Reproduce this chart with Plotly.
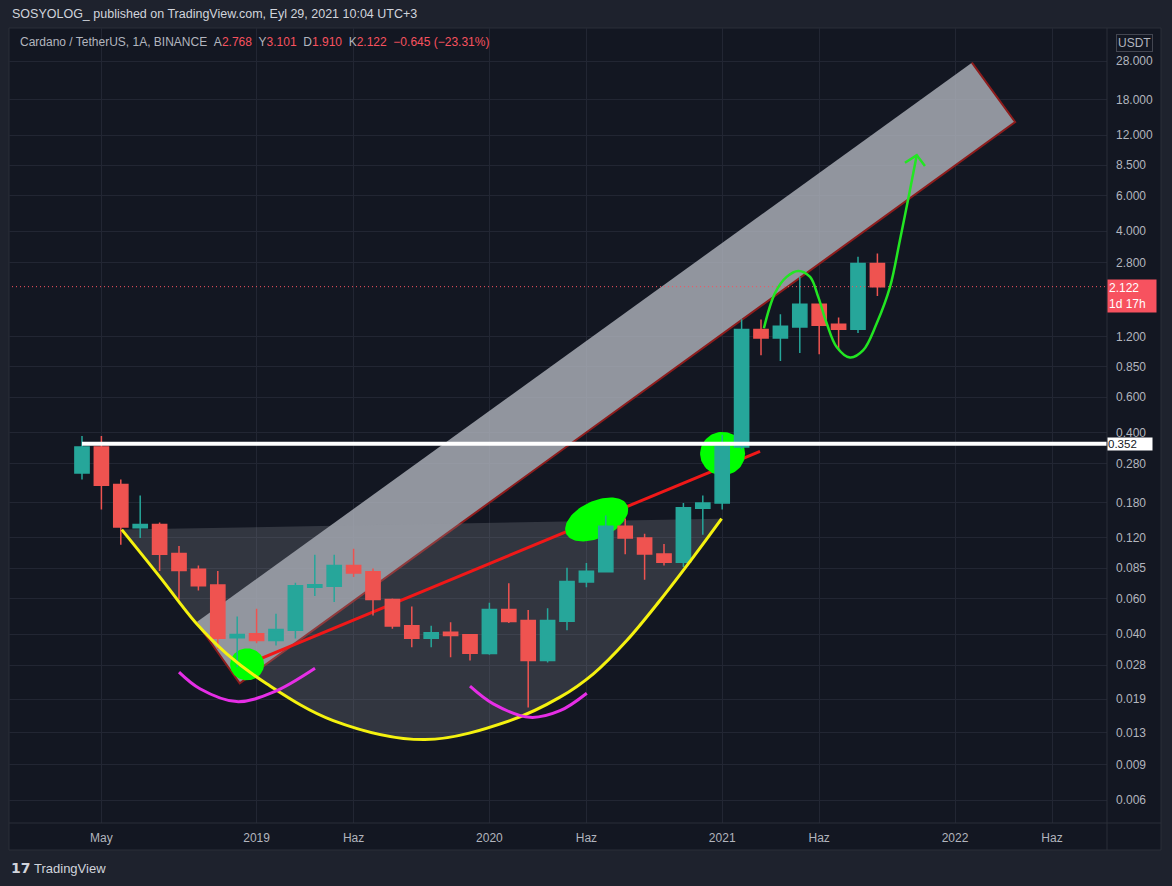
import math
import numpy as np
import plotly.graph_objects as go

# ------------------------------------------------------------------ data
months = ["2018-04", "2018-05", "2018-06", "2018-07", "2018-08", "2018-09", "2018-10",
          "2018-11", "2018-12", "2019-01", "2019-02", "2019-03", "2019-04", "2019-05",
          "2019-06", "2019-07", "2019-08", "2019-09", "2019-10", "2019-11", "2019-12",
          "2020-01", "2020-02", "2020-03", "2020-04", "2020-05", "2020-06", "2020-07",
          "2020-08", "2020-09", "2020-10", "2020-11", "2020-12", "2021-01", "2021-02",
          "2021-03", "2021-04", "2021-05", "2021-06", "2021-07", "2021-08", "2021-09"]
opens = [0.252, 0.339, 0.221, 0.1347, 0.140, 0.1006, 0.0838, 0.070, 0.0383, 0.0401,
         0.0372, 0.0418, 0.0684, 0.0690, 0.0877, 0.0815, 0.0594, 0.0440, 0.0381, 0.0408,
         0.0397, 0.0320, 0.0530, 0.0467, 0.0296, 0.0463, 0.0726, 0.0815, 0.137, 0.120,
         0.100, 0.091, 0.1685, 0.179, 0.339, 1.30, 1.18, 1.34, 1.737, 1.38, 1.305, 2.768]
highs = [0.385, 0.385, 0.234, 0.195, 0.143, 0.1094, 0.0877, 0.0822, 0.0489, 0.0534,
         0.0504, 0.0719, 0.099, 0.099, 0.106, 0.0846, 0.0600, 0.0548, 0.0440, 0.0458,
         0.0400, 0.0572, 0.0716, 0.0526, 0.0538, 0.0854, 0.090, 0.155, 0.150, 0.126,
         0.112, 0.179, 0.195, 0.391, 1.462, 1.46, 1.549, 2.373, 1.75, 1.491, 2.984, 3.101]
lows = [0.234, 0.166, 0.111, 0.120, 0.0822, 0.0594, 0.0658, 0.0337, 0.0274, 0.0360,
        0.0351, 0.0380, 0.0618, 0.0577, 0.0768, 0.0495, 0.0425, 0.0344, 0.0344, 0.0307,
        0.0296, 0.0316, 0.0454, 0.0173, 0.0289, 0.0418, 0.0683, 0.0810, 0.0995, 0.0745,
        0.0877, 0.0862, 0.1245, 0.166, 0.330, 0.969, 0.908, 0.995, 0.980, 1.026, 1.251, 1.910]
closes = [0.339, 0.219, 0.136, 0.140, 0.0995, 0.0828, 0.0694, 0.0381, 0.0398, 0.0372,
          0.0421, 0.0694, 0.0702, 0.0877, 0.0805, 0.0593, 0.0438, 0.0381, 0.0406, 0.0393,
          0.0321, 0.0530, 0.0462, 0.0296, 0.0467, 0.0730, 0.0819, 0.137, 0.120, 0.100,
          0.091, 0.1695, 0.179, 0.342, 1.30, 1.181, 1.35, 1.737, 1.366, 1.305, 2.767, 2.122]
month_idx = list(range(len(months)))

x_tick_vals = [1, 9, 14, 21, 26, 33, 38, 45, 50]
x_tick_text = ["May", "2019", "Haz", "2020", "Haz", "2021", "Haz", "2022", "Haz"]
y_tick_vals = [28, 18, 12, 8.5, 6, 4, 2.8, 1.2, 0.85, 0.6, 0.4, 0.28, 0.18, 0.12, 0.085,
               0.06, 0.04, 0.028, 0.019, 0.013, 0.009, 0.006]
y_tick_text = [f"{v:.3f}" for v in y_tick_vals]

support_level = 0.352
last_close = closes[-1]

# ---- drawings (month index, price)
channel_x = [5.90, 8.13, 48.10, 45.87]
channel_y = [0.04576, 0.02277, 13.94, 27.46]

arc_x = [2.05, 4.02, 5.91, 7.46, 9.52, 12.95, 17.68, 22.06, 24.64, 26.36, 28.08, 29.79, 31.51, 32.97]
arc_y = [0.1320, 0.0767, 0.04497, 0.03192, 0.02266, 0.01488, 0.01197, 0.01488, 0.01944,
         0.0254, 0.03716, 0.05872, 0.0964, 0.1496]

red_line_x = [8.51, 34.95]
red_line_y = [0.0283, 0.3231]

pink1_x = [5.0, 6.08, 7.97, 9.86, 12.01]
pink1_y = [0.02588, 0.02140, 0.01848, 0.02058, 0.02707]
pink2_x = [20.0, 21.2, 23.09, 24.64, 26.02]
pink2_y = [0.02203, 0.01800, 0.01544, 0.01665, 0.02033]

arrow_x = [35.15, 35.72, 36.32, 36.92, 37.53, 37.95, 38.39, 38.90, 39.59, 40.27, 40.96,
           41.65, 42.16, 42.68, 43.03]
arrow_y = [1.319, 1.970, 2.372, 2.542, 2.372, 1.887, 1.392, 1.065, 0.9437, 1.026, 1.392,
           2.117, 3.612, 6.40, 9.55]
arrow_head_x = [42.42, 43.03, 43.45]
arrow_head_y = [8.745, 9.55, 8.42]

# green marks: centre (month idx, price), semi-axes in px, tilt in degrees
marks = [(8.51, 0.0283, 17, 16, 0), (26.53, 0.1483, 33.7, 18.5, 25), (33.02, 0.3147, 22.5, 21.7, 0)]

# ------------------------------------------------------------------ geometry
W, H = 1172, 886
ML, MR, MT, MB = 9, 65, 28, 63
PW, PH = W - ML - MR, H - MT - MB
x_range = [-3.763, 52.835]
y_range = [-2.336, 1.611]
ppm = PW / (x_range[1] - x_range[0])
ppd = PH / (y_range[1] - y_range[0])


def px_x(px):
    return (px - ML) / PW


def px_y(py):
    return (H - MB - py) / PH


def ellipse(cx, cy, a, b, tilt):
    t = np.linspace(0, 2 * np.pi, 90)
    th = math.radians(tilt)
    dx = a * np.cos(t) * math.cos(th) - b * np.sin(t) * math.sin(th)
    dy = a * np.cos(t) * math.sin(th) + b * np.sin(t) * math.cos(th)
    xs = cx + dx / ppm
    ys = 10 ** (math.log10(cy) + dy / ppd)
    return list(xs), list(ys)


BG = "#131722"
OUTER = "#1e222d"
GRID = "#222633"
BORDER = "#2a2e39"
TXT = "#b2b5be"
TEAL = "#26a69a"
RED = "#ef5350"
FONT = "Liberation Sans, Arial, sans-serif"

fig = go.Figure()

# lower layer (drawings under candles)
fig.add_trace(go.Scatter(x=channel_x, y=channel_y, mode="lines", fill="toself",
                         fillcolor="rgba(178,181,190,0.80)",
                         line=dict(color="#8e1c1c", width=2), hoverinfo="skip", showlegend=False))
fig.add_trace(go.Scatter(x=arc_x, y=arc_y, mode="lines", fill="toself",
                         fillcolor="rgba(150,153,165,0.24)", line=dict(width=0, shape="spline"),
                         hoverinfo="skip", showlegend=False))
fig.add_trace(go.Scatter(x=red_line_x, y=red_line_y, mode="lines",
                         line=dict(color="#f01818", width=3), hoverinfo="skip", showlegend=False))
for cx, cy, a, b, tilt in marks:
    ex, ey = ellipse(cx, cy, a, b, tilt)
    fig.add_trace(go.Scatter(x=ex, y=ey, mode="lines", fill="toself", fillcolor="#00ff00",
                             line=dict(width=0), hoverinfo="skip", showlegend=False))

# upper layer
fig.add_trace(go.Candlestick(x=month_idx, open=opens, high=highs, low=lows, close=closes,
                             increasing=dict(line=dict(color=TEAL, width=1.5), fillcolor=TEAL),
                             decreasing=dict(line=dict(color=RED, width=1.5), fillcolor=RED),
                             whiskerwidth=0, xaxis="x2", yaxis="y2", showlegend=False))
fig.add_trace(go.Scatter(x=[x_range[0] - 5, x_range[1] + 5], y=[last_close, last_close],
                         mode="lines", line=dict(color="#f7525f", width=1, dash="1px,3px"),
                         xaxis="x2", yaxis="y2", hoverinfo="skip", showlegend=False))
fig.add_trace(go.Scatter(x=[month_idx[0], x_range[1] + 5], y=[support_level, support_level],
                         mode="lines", line=dict(color="#ffffff", width=4),
                         xaxis="x2", yaxis="y2", hoverinfo="skip", showlegend=False))
fig.add_trace(go.Scatter(x=arc_x, y=arc_y, mode="lines", line=dict(color="#f5f20f", width=3, shape="spline"),
                         xaxis="x2", yaxis="y2", hoverinfo="skip", showlegend=False))
for px_, py_ in [(pink1_x, pink1_y), (pink2_x, pink2_y)]:
    fig.add_trace(go.Scatter(x=px_, y=py_, mode="lines", line=dict(color="#e62ee6", width=3, shape="spline"),
                             xaxis="x2", yaxis="y2", hoverinfo="skip", showlegend=False))
fig.add_trace(go.Scatter(x=arrow_x, y=arrow_y, mode="lines", line=dict(color="#22e622", width=2.5, shape="spline"),
                         xaxis="x2", yaxis="y2", hoverinfo="skip", showlegend=False))
fig.add_trace(go.Scatter(x=arrow_head_x, y=arrow_head_y, mode="lines", line=dict(color="#22e622", width=2.5),
                         xaxis="x2", yaxis="y2", hoverinfo="skip", showlegend=False))

# ------------------------------------------------------------------ layout
shapes = [
    dict(type="rect", xref="paper", yref="paper", x0=0, x1=px_x(1161), y0=px_y(850), y1=1,
         fillcolor=BG, line=dict(color=BORDER, width=1), layer="below"),
    dict(type="line", xref="paper", yref="paper", x0=1, x1=1, y0=px_y(850), y1=1,
         line=dict(color=BORDER, width=1), layer="above"),
    dict(type="line", xref="paper", yref="paper", x0=0, x1=px_x(1161), y0=0, y1=0,
         line=dict(color=BORDER, width=1), layer="above"),
]

red_val = "#f7525f"
prev_close = closes[-2]
chg = last_close - prev_close
sp = "\u00a0\u00a0"
legend_txt = ("Cardano / TetherUS, 1A, BINANCE" + sp +
              f"A<span style='color:{red_val}'>{opens[-1]:.3f}</span>" + sp +
              f"Y<span style='color:{red_val}'>{highs[-1]:.3f}</span>" + sp +
              f"D<span style='color:{red_val}'>{lows[-1]:.3f}</span>" + sp +
              f"K<span style='color:{red_val}'>{closes[-1]:.3f}</span>" + sp +
              f"<span style='color:{red_val}'>\u2212{abs(chg):.3f} "
              f"(\u2212{abs(chg) / prev_close * 100:.2f}%)</span>")

annotations = [
    dict(text="SOSYOLOG_ published on TradingView.com, Eyl 29, 2021 10:04 UTC+3",
         xref="paper", yref="paper", x=px_x(10), y=px_y(14), xanchor="left", yanchor="middle",
         showarrow=False, font=dict(family=FONT, size=12.5, color="#d1d4dc")),
    dict(text=legend_txt, xref="paper", yref="paper", x=px_x(18), y=px_y(42),
         xanchor="left", yanchor="middle", showarrow=False,
         font=dict(family=FONT, size=12, color=TXT)),
    dict(text="USDT", xref="paper", yref="paper", x=px_x(1134), y=px_y(43),
         xanchor="center", yanchor="middle", showarrow=False, bordercolor="#434651",
         borderwidth=1, borderpad=1, font=dict(family=FONT, size=12, color=TXT)),
    dict(text=f"{last_close:.3f}<br>1d 17h", xref="paper", yref="y", x=1, y=math.log10(last_close),
         xanchor="left", yanchor="top", yshift=8, showarrow=False, align="left",
         bgcolor="#f7525f", borderpad=1, width=46,
         font=dict(family=FONT, size=12, color="#ffffff")),
    dict(text=f"{support_level:.3f}", xref="paper", yref="y", x=1, y=math.log10(support_level),
         xanchor="left", yanchor="middle", showarrow=False, align="left",
         bgcolor="#ffffff", borderpad=0, width=44,
         font=dict(family=FONT, size=11.5, color=BG)),
    dict(text="<b>17</b>", xref="paper", yref="paper", x=px_x(9), y=px_y(868),
         xanchor="left", yanchor="middle", showarrow=False,
         font=dict(family="DejaVu Sans", size=14, color="#d1d4dc")),
    dict(text="TradingView", xref="paper", yref="paper", x=px_x(32), y=px_y(868),
         xanchor="left", yanchor="middle", showarrow=False,
         font=dict(family=FONT, size=13, color="#d1d4dc")),
]

fig.update_layout(
    width=W, height=H, margin=dict(l=ML, r=MR, t=MT, b=MB, pad=0),
    paper_bgcolor=OUTER, plot_bgcolor=BG, showlegend=False,
    boxgap=0.13, boxgroupgap=0.16,
    shapes=shapes, annotations=annotations,
    xaxis=dict(range=x_range, tickmode="array", tickvals=x_tick_vals, ticktext=x_tick_text,
               showgrid=True, gridcolor=GRID, gridwidth=1, zeroline=False, showline=False,
               ticks="", ticklabelstandoff=6, tickfont=dict(family=FONT, size=12, color=TXT),
               fixedrange=True),
    yaxis=dict(type="log", range=y_range, side="right", tickmode="array", tickvals=y_tick_vals,
               ticktext=y_tick_text, showgrid=True, gridcolor=GRID, gridwidth=1, zeroline=False,
               showline=False, ticks="", ticklabelstandoff=8,
               tickfont=dict(family=FONT, size=12, color=TXT), fixedrange=True),
    xaxis2=dict(overlaying="x", range=x_range, visible=False, rangeslider=dict(visible=False),
                fixedrange=True),
    yaxis2=dict(overlaying="y", type="log", range=y_range, visible=False, fixedrange=True),
)

fig.write_html("out.html", config={"displayModeBar": False})
